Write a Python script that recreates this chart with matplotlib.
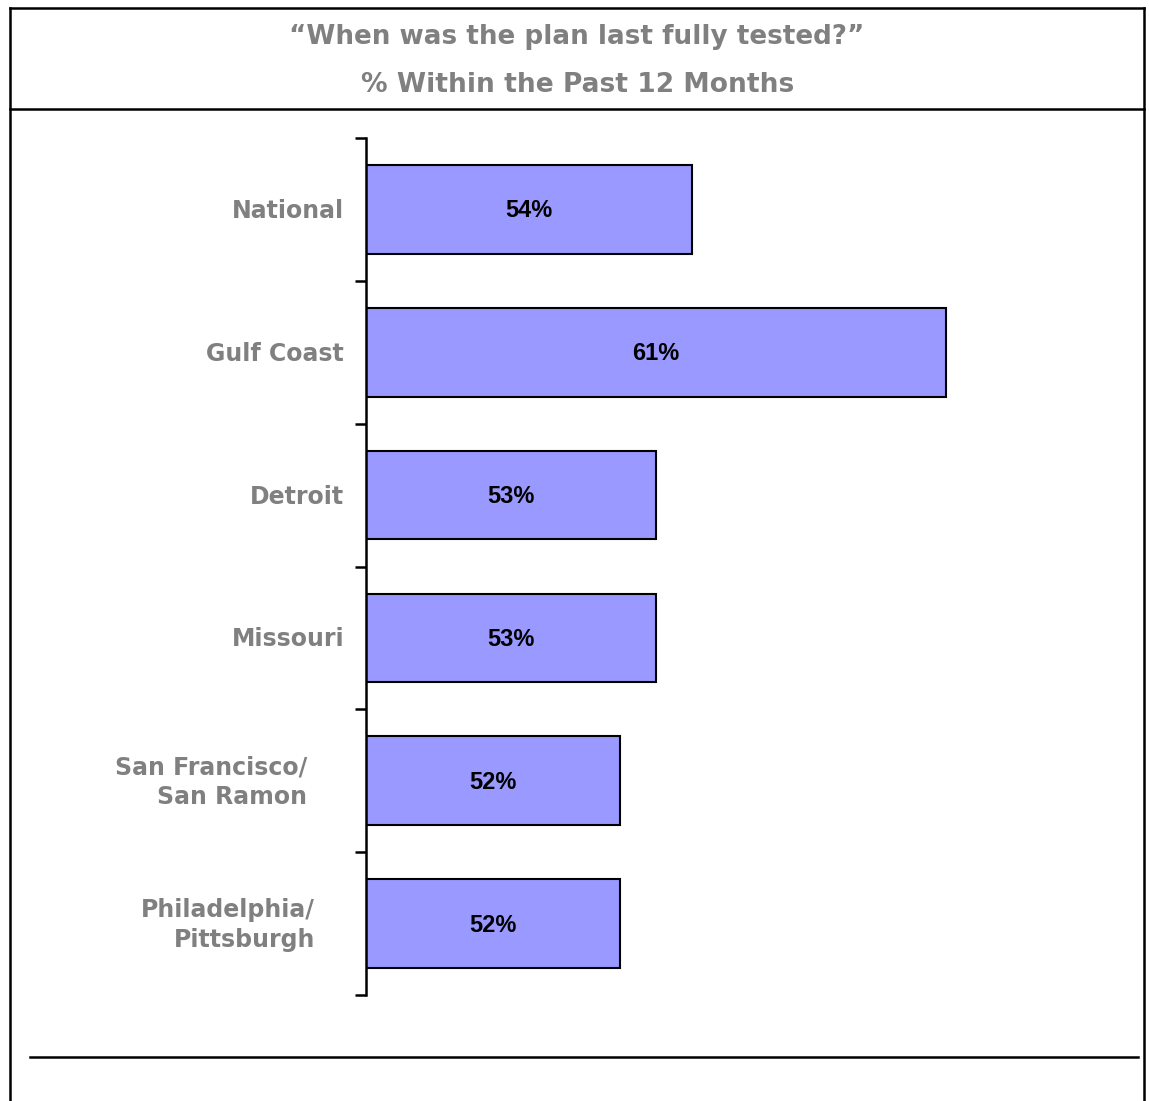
import matplotlib
matplotlib.use("Agg")
import matplotlib.pyplot as plt
from matplotlib.lines import Line2D
from matplotlib.transforms import offset_copy
from matplotlib.font_manager import FontProperties

categories = ["National", "Gulf Coast", "Detroit", "Missouri",
              "San Francisco/\nSan Ramon", "Philadelphia/\nPittsburgh"]
values = [54, 61, 53, 53, 52, 52]
value_labels = ["54%", "61%", "53%", "53%", "52%", "52%"]
title_lines = ["\u201cWhen was the plan last fully tested?\u201d",
               "% Within the Past 12 Months"]

W, H = 1149, 1101
DPI = 100
fig = plt.figure(figsize=(W / DPI, H / DPI), dpi=DPI)
fig.patch.set_facecolor("white")

GRAY = "#808080"
label_font = "DejaVu Sans"
value_fp = FontProperties(family="Liberation Sans", weight="bold",
                          stretch="normal", size=17)


def fx(px):
    return px / W


def fy(py):
    return 1 - py / H


# frame around the whole panel and the title separator
lw = 1.8
fig.add_artist(Line2D([fx(10), fx(1144)], [fy(8), fy(8)], color="black", lw=lw))
fig.add_artist(Line2D([fx(10), fx(10)], [fy(8), fy(1101)], color="black", lw=lw))
fig.add_artist(Line2D([fx(1144), fx(1144)], [fy(8), fy(1101)], color="black", lw=lw))
fig.add_artist(Line2D([fx(10), fx(1144)], [fy(109), fy(109)], color="black", lw=lw))
fig.add_artist(Line2D([fx(30), fx(1138)], [fy(1057), fy(1057)], color="black", lw=lw))

# title
fig.text(fx(577), fy(37), title_lines[0], ha="center", va="center",
         fontsize=18.9, fontweight="bold", color=GRAY, family=label_font)
fig.text(fx(578), fy(85), title_lines[1], ha="center", va="center",
         fontsize=19.1, fontweight="bold", color=GRAY, family=label_font)

# plot area
ax_left, ax_top, ax_bottom = 366, 138, 995
xmin, xmax = 45, 67
px_per_unit = 36.22
ax_width = (xmax - xmin) * px_per_unit
ax = fig.add_axes([fx(ax_left), fy(ax_bottom), ax_width / W,
                   (ax_bottom - ax_top) / H])
ax.set_facecolor("none")

n = len(categories)
ypos = list(range(n))
ax.barh(ypos, [v - xmin for v in values], left=xmin, height=0.62,
        color="#9999FF", edgecolor="black", linewidth=1.5, zorder=2)
ax.set_xlim(xmin, xmax)
ax.set_ylim(n - 0.5, -0.5)

for i, (v, lab) in enumerate(zip(values, value_labels)):
    ax.text((xmin + v) / 2, i + 0.01, lab, ha="center", va="center",
            fontproperties=value_fp, color="black", zorder=3)

# category boundary ticks on the left spine
ax.set_yticks([i - 0.5 for i in range(n + 1)])
ax.set_yticklabels([])
ax.tick_params(axis="y", direction="out", length=8, width=1.8, color="black")
ax.set_xticks([])
for s in ["top", "right", "bottom"]:
    ax.spines[s].set_visible(False)
ax.spines["left"].set_linewidth(1.8)

# category labels (wrapped labels sit a bit further left)
offsets = [22, 22, 22, 22, 59, 51]
for i, (cat, off) in enumerate(zip(categories, offsets)):
    tr = offset_copy(ax.get_yaxis_transform(), fig=fig, x=-off * 72 / DPI,
                     y=0, units="points")
    ax.text(0, i + 0.01, cat, transform=tr, ha="right", va="center",
            multialignment="right", fontsize=17, fontweight="bold",
            color=GRAY, family=label_font, linespacing=1.3)

fig.savefig("out.png", dpi=DPI, facecolor="white")
